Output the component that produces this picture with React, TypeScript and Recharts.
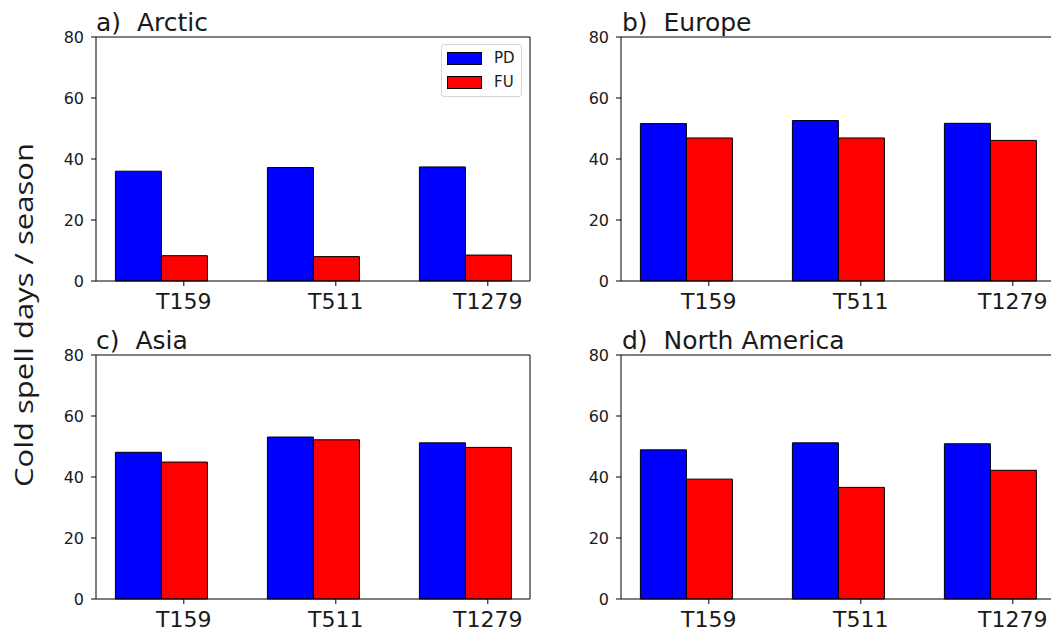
import React from 'react';
import {
  BarChart,
  Bar,
  XAxis,
  YAxis,
  ReferenceLine,
  Legend,
} from 'recharts';

const categories = ['T159', 'T511', 'T1279'];
const yTicks = [0, 20, 40, 60, 80];

const arcticPD = [36.0, 37.2, 37.4];
const arcticFU = [8.3, 8.0, 8.5];
const europePD = [51.6, 52.6, 51.7];
const europeFU = [46.9, 46.9, 46.1];
const asiaPD = [48.1, 53.1, 51.2];
const asiaFU = [44.9, 52.2, 49.7];
const northAmericaPD = [48.9, 51.2, 50.9];
const northAmericaFU = [39.3, 36.6, 42.2];

const FONT = '"DejaVu Sans", sans-serif';
const INK = '#1a1a1a';

// tick sits under the FU bar, not between the pair
const TICK_SHIFT = 22.8;

function XTick(props: any) {
  const { x, y, payload } = props;
  const cx = x + TICK_SHIFT;
  return (
    <g>
      <line x1={cx} y1={y} x2={cx} y2={y + 5} stroke="#000" />
      <text x={cx} y={y + 28} textAnchor="middle" fontSize={22} fontFamily={FONT} fill={INK}>
        {payload.value}
      </text>
    </g>
  );
}

function LegendBox() {
  const rows = [
    { name: 'PD', color: '#0000ff' },
    { name: 'FU', color: '#ff0000' },
  ];
  return (
    <div
      style={{
        width: 79,
        height: 51,
        border: '1px solid #d6d6d6',
        borderRadius: 3,
        background: 'rgba(255,255,255,0.8)',
        boxSizing: 'content-box',
        position: 'relative',
      }}
    >
      {rows.map((r, i) => (
        <div key={r.name} style={{ position: 'absolute', left: 5, top: 7 + i * 24.3, height: 12, display: 'flex', alignItems: 'center' }}>
          <div style={{ width: 33, height: 11, background: r.color, border: '1px solid #000' }} />
          <span style={{ marginLeft: 12, fontSize: 15, fontFamily: FONT, color: INK }}>{r.name}</span>
        </div>
      ))}
    </div>
  );
}

interface PanelProps {
  pd: number[];
  fu: number[];
  left: number;
  top: number;
  showLegend?: boolean;
  rightSpine?: boolean;
}

function Panel({ pd, fu, left, top, showLegend, rightSpine }: PanelProps) {
  const data = categories.map((c, i) => ({ name: c, PD: pd[i], FU: fu[i] }));
  return (
    <div style={{ position: 'absolute', left, top, width: 540, height: 330 }}>
      <BarChart
        width={540}
        height={330}
        data={data}
        margin={{ top: 37, right: 9, bottom: 9, left: 56 }}
        barCategoryGap="20%"
        barGap={0}
      >
        <XAxis
          dataKey="name"
          height={40}
          padding={{ left: -11, right: -11 }}
          axisLine={{ stroke: '#000' }}
          tickLine={false}
          tickSize={0}
          tickMargin={0}
          tick={<XTick />}
          interval={0}
        />
        <YAxis
          width={40}
          domain={[0, 80]}
          ticks={yTicks}
          tickSize={5}
          tickMargin={7}
          axisLine={{ stroke: '#000' }}
          tickLine={{ stroke: '#000' }}
          tick={{ fontSize: 16, fontFamily: FONT, fill: INK }}
        />
        <YAxis
          yAxisId="frame"
          orientation="right"
          width={1}
          tick={false}
          tickLine={false}
          axisLine={rightSpine ? { stroke: '#000' } : false}
        />
        <ReferenceLine y={80} stroke="#000" />
        <Bar dataKey="PD" fill="#0000ff" stroke="#000" strokeWidth={1} isAnimationActive={false} />
        <Bar dataKey="FU" fill="#ff0000" stroke="#000" strokeWidth={1} isAnimationActive={false} />
        {showLegend && (
          <Legend
            layout="horizontal"
            verticalAlign="middle"
            align="center"
            content={() => <LegendBox />}
            wrapperStyle={{ left: 441, top: 44, width: 81, height: 53 }}
          />
        )}
      </BarChart>
    </div>
  );
}

const SP = '\u00a0 ';

export default function App() {
  return (
    <div style={{ position: 'fixed', left: 0, top: 0, width: 1051, height: 631, overflow: 'hidden', background: '#fff' }}>
      <Panel pd={arcticPD} fu={arcticFU} left={0} top={0} showLegend rightSpine />
      <Panel pd={europePD} fu={europeFU} left={525} top={0} />
      <Panel pd={asiaPD} fu={asiaFU} left={0} top={318} rightSpine />
      <Panel pd={northAmericaPD} fu={northAmericaFU} left={525} top={318} />
      <svg width={1051} height={631} style={{ position: 'absolute', left: 0, top: 0, pointerEvents: 'none' }}>
        <g fontFamily={FONT} fontSize={25} fill={INK}>
          <text x={96} y={31}>{'a)' + SP + 'Arctic'}</text>
          <text x={622} y={31}>{'b)' + SP + 'Europe'}</text>
          <text x={96} y={349}>{'c)' + SP + 'Asia'}</text>
          <text x={622} y={349}>{'d)' + SP + 'North America'}</text>
        </g>
        <text
          transform="translate(33, 315) rotate(-90)"
          textAnchor="middle"
          fontFamily='"Open Sans", sans-serif'
          fontSize={26}
          fill={INK}
          textLength={344}
          lengthAdjust="spacingAndGlyphs"
        >
          Cold spell days / season
        </text>
      </svg>
    </div>
  );
}
